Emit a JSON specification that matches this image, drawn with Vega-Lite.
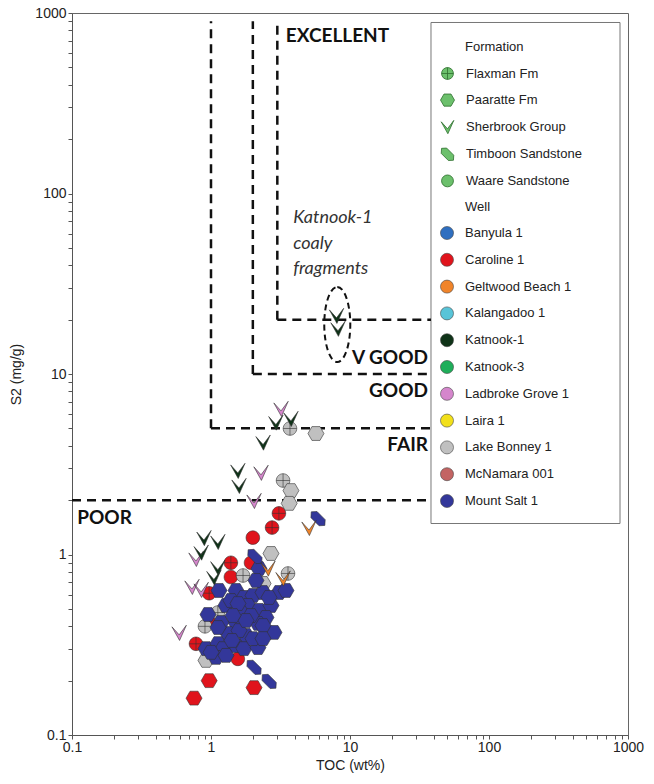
{
  "$schema": "https://vega.github.io/schema/vega-lite/v6.json",
  "width": 556,
  "height": 722,
  "autosize": {"type": "none"},
  "padding": {"left": 72, "top": 13, "right": 26, "bottom": 49},
  "background": "white",
  "config": {
    "view": {"stroke": "#666", "strokeWidth": 1},
    "axis": {
      "labelFont": "Liberation Sans", "titleFont": "Liberation Sans",
      "labelFontSize": 14, "titleFontSize": 14, "titleFontWeight": "normal",
      "labelColor": "#222", "titleColor": "#222",
      "gridColor": "#e2e2f2", "gridOpacity": 1, "gridWidth": 1,
      "domainColor": "#555", "tickColor": "#555", "tickSize": 4
    },
    "legend": {
      "labelFont": "Liberation Sans", "titleFont": "Liberation Sans",
      "labelFontSize": 13, "titleFontSize": 13, "titleFontWeight": "normal",
      "labelColor": "#222", "titleColor": "#222"
    }
  },
  "datasets": {
    "thresholds": [
      {"x": 1, "x2": 1, "y": 5, "y2": 900},
      {"x": 2, "x2": 2, "y": 10, "y2": 900},
      {"x": 3, "x2": 3, "y": 20, "y2": 900},
      {"x": 0.1, "x2": 38.25, "y": 2, "y2": 2},
      {"x": 1, "x2": 38.25, "y": 5, "y2": 5},
      {"x": 2, "x2": 38.25, "y": 10, "y2": 10},
      {"x": 3, "x2": 38.25, "y": 20, "y2": 20}
    ],
    "boldLeft": [
      {"label": "EXCELLENT", "x": 3.45, "y": 750},
      {"label": "POOR", "x": 0.109, "y": 1.6}
    ],
    "boldRight": [
      {"label": "V GOOD", "x": 36.4, "y": 12.2},
      {"label": "GOOD", "x": 36.4, "y": 8.0},
      {"label": "FAIR", "x": 36.4, "y": 4.02}
    ],
    "italic": [
      {"label": "Katnook-1", "x": 3.9, "y": 72.7},
      {"label": "coaly", "x": 3.9, "y": 52.8},
      {"label": "fragments", "x": 3.9, "y": 38.4}
    ],
    "cluster": [{"toc": 8.1, "s2": 18.8}],
    "points": [
      {"well": "Caroline 1", "formation": "Flaxman Fm", "toc": 3.08, "s2": 1.69},
      {"well": "Caroline 1", "formation": "Flaxman Fm", "toc": 2.75, "s2": 1.41},
      {"well": "Caroline 1", "formation": "Flaxman Fm", "toc": 1.39, "s2": 0.90},
      {"well": "Caroline 1", "formation": "Flaxman Fm", "toc": 0.97, "s2": 0.61},
      {"well": "Caroline 1", "formation": "Flaxman Fm", "toc": 0.78, "s2": 0.32},
      {"well": "Caroline 1", "formation": "Waare Sandstone", "toc": 2.0, "s2": 1.24},
      {"well": "Caroline 1", "formation": "Waare Sandstone", "toc": 1.94, "s2": 0.90},
      {"well": "Caroline 1", "formation": "Waare Sandstone", "toc": 1.56, "s2": 0.264},
      {"well": "Caroline 1", "formation": "Waare Sandstone", "toc": 1.09, "s2": 0.415},
      {"well": "Caroline 1", "formation": "Waare Sandstone", "toc": 1.39, "s2": 0.75},
      {"well": "Caroline 1", "formation": "Waare Sandstone", "toc": 1.09, "s2": 0.305},
      {"well": "Caroline 1", "formation": "Paaratte Fm", "toc": 0.97, "s2": 0.20},
      {"well": "Caroline 1", "formation": "Paaratte Fm", "toc": 2.04, "s2": 0.183},
      {"well": "Caroline 1", "formation": "Paaratte Fm", "toc": 0.755, "s2": 0.16},
      {"well": "Lake Bonney 1", "formation": "Flaxman Fm", "toc": 3.70, "s2": 4.99},
      {"well": "Lake Bonney 1", "formation": "Flaxman Fm", "toc": 3.30, "s2": 2.57},
      {"well": "Lake Bonney 1", "formation": "Flaxman Fm", "toc": 1.70, "s2": 0.765},
      {"well": "Lake Bonney 1", "formation": "Flaxman Fm", "toc": 3.58, "s2": 0.785},
      {"well": "Lake Bonney 1", "formation": "Flaxman Fm", "toc": 0.905, "s2": 0.40},
      {"well": "Lake Bonney 1", "formation": "Flaxman Fm", "toc": 1.12, "s2": 0.477},
      {"well": "Lake Bonney 1", "formation": "Paaratte Fm", "toc": 5.69, "s2": 4.68},
      {"well": "Lake Bonney 1", "formation": "Paaratte Fm", "toc": 3.76, "s2": 2.26},
      {"well": "Lake Bonney 1", "formation": "Paaratte Fm", "toc": 3.65, "s2": 1.92},
      {"well": "Lake Bonney 1", "formation": "Paaratte Fm", "toc": 2.70, "s2": 1.013},
      {"well": "Lake Bonney 1", "formation": "Paaratte Fm", "toc": 2.37, "s2": 0.691},
      {"well": "Lake Bonney 1", "formation": "Paaratte Fm", "toc": 0.92, "s2": 0.259},
      {"well": "Mount Salt 1", "formation": "Paaratte Fm", "toc": 1.142, "s2": 0.632},
      {"well": "Mount Salt 1", "formation": "Paaratte Fm", "toc": 1.513, "s2": 0.632},
      {"well": "Mount Salt 1", "formation": "Paaratte Fm", "toc": 1.728, "s2": 0.578},
      {"well": "Mount Salt 1", "formation": "Paaratte Fm", "toc": 2.005, "s2": 0.593},
      {"well": "Mount Salt 1", "formation": "Paaratte Fm", "toc": 2.366, "s2": 0.616},
      {"well": "Mount Salt 1", "formation": "Paaratte Fm", "toc": 3.084, "s2": 0.616},
      {"well": "Mount Salt 1", "formation": "Paaratte Fm", "toc": 3.464, "s2": 0.632},
      {"well": "Mount Salt 1", "formation": "Paaratte Fm", "toc": 0.951, "s2": 0.465},
      {"well": "Mount Salt 1", "formation": "Paaratte Fm", "toc": 1.282, "s2": 0.522},
      {"well": "Mount Salt 1", "formation": "Paaratte Fm", "toc": 1.846, "s2": 0.522},
      {"well": "Mount Salt 1", "formation": "Paaratte Fm", "toc": 2.214, "s2": 0.490},
      {"well": "Mount Salt 1", "formation": "Paaratte Fm", "toc": 2.703, "s2": 0.522},
      {"well": "Mount Salt 1", "formation": "Paaratte Fm", "toc": 2.487, "s2": 0.448},
      {"well": "Mount Salt 1", "formation": "Paaratte Fm", "toc": 1.513, "s2": 0.420},
      {"well": "Mount Salt 1", "formation": "Paaratte Fm", "toc": 2.178, "s2": 0.415},
      {"well": "Mount Salt 1", "formation": "Paaratte Fm", "toc": 1.786, "s2": 0.356},
      {"well": "Mount Salt 1", "formation": "Paaratte Fm", "toc": 2.839, "s2": 0.370},
      {"well": "Mount Salt 1", "formation": "Paaratte Fm", "toc": 1.325, "s2": 0.365},
      {"well": "Mount Salt 1", "formation": "Paaratte Fm", "toc": 0.921, "s2": 0.301},
      {"well": "Mount Salt 1", "formation": "Paaratte Fm", "toc": 1.123, "s2": 0.321},
      {"well": "Mount Salt 1", "formation": "Paaratte Fm", "toc": 1.220, "s2": 0.301},
      {"well": "Mount Salt 1", "formation": "Paaratte Fm", "toc": 1.513, "s2": 0.313},
      {"well": "Mount Salt 1", "formation": "Paaratte Fm", "toc": 1.728, "s2": 0.301},
      {"well": "Mount Salt 1", "formation": "Paaratte Fm", "toc": 2.178, "s2": 0.305},
      {"well": "Mount Salt 1", "formation": "Paaratte Fm", "toc": 1.086, "s2": 0.269},
      {"well": "Mount Salt 1", "formation": "Paaratte Fm", "toc": 1.282, "s2": 0.276},
      {"well": "Mount Salt 1", "formation": "Paaratte Fm", "toc": 2.214, "s2": 0.836},
      {"well": "Mount Salt 1", "formation": "Paaratte Fm", "toc": 1.393, "s2": 0.556},
      {"well": "Mount Salt 1", "formation": "Paaratte Fm", "toc": 1.644, "s2": 0.477},
      {"well": "Mount Salt 1", "formation": "Paaratte Fm", "toc": 1.940, "s2": 0.459},
      {"well": "Mount Salt 1", "formation": "Paaratte Fm", "toc": 2.366, "s2": 0.404},
      {"well": "Mount Salt 1", "formation": "Paaratte Fm", "toc": 2.005, "s2": 0.342},
      {"well": "Mount Salt 1", "formation": "Paaratte Fm", "toc": 1.590, "s2": 0.379},
      {"well": "Mount Salt 1", "formation": "Paaratte Fm", "toc": 2.615, "s2": 0.578},
      {"well": "Mount Salt 1", "formation": "Paaratte Fm", "toc": 1.416, "s2": 0.334},
      {"well": "Mount Salt 1", "formation": "Paaratte Fm", "toc": 1.0, "s2": 0.287},
      {"well": "Mount Salt 1", "formation": "Paaratte Fm", "toc": 1.786, "s2": 0.431},
      {"well": "Mount Salt 1", "formation": "Paaratte Fm", "toc": 1.564, "s2": 0.535},
      {"well": "Mount Salt 1", "formation": "Paaratte Fm", "toc": 2.366, "s2": 0.342},
      {"well": "Mount Salt 1", "formation": "Paaratte Fm", "toc": 1.180, "s2": 0.420},
      {"well": "Mount Salt 1", "formation": "Paaratte Fm", "toc": 2.107, "s2": 0.718},
      {"well": "Mount Salt 1", "formation": "Paaratte Fm", "toc": 1.44, "s2": 0.459},
      {"well": "Mount Salt 1", "formation": "Paaratte Fm", "toc": 1.123, "s2": 0.394},
      {"well": "Mount Salt 1", "formation": "Timboon Sandstone", "toc": 5.89, "s2": 1.58},
      {"well": "Mount Salt 1", "formation": "Timboon Sandstone", "toc": 2.07, "s2": 0.975},
      {"well": "Mount Salt 1", "formation": "Timboon Sandstone", "toc": 2.04, "s2": 0.237},
      {"well": "Mount Salt 1", "formation": "Timboon Sandstone", "toc": 2.62, "s2": 0.198},
      {"well": "Geltwood Beach 1", "formation": "Sherbrook Group", "toc": 5.07, "s2": 1.41},
      {"well": "Geltwood Beach 1", "formation": "Sherbrook Group", "toc": 2.57, "s2": 0.84},
      {"well": "Geltwood Beach 1", "formation": "Sherbrook Group", "toc": 3.30, "s2": 0.74},
      {"well": "Ladbroke Grove 1", "formation": "Sherbrook Group", "toc": 3.19, "s2": 6.44},
      {"well": "Ladbroke Grove 1", "formation": "Sherbrook Group", "toc": 2.29, "s2": 2.85},
      {"well": "Ladbroke Grove 1", "formation": "Sherbrook Group", "toc": 2.04, "s2": 1.99},
      {"well": "Ladbroke Grove 1", "formation": "Sherbrook Group", "toc": 0.78, "s2": 0.95},
      {"well": "Ladbroke Grove 1", "formation": "Sherbrook Group", "toc": 0.73, "s2": 0.665},
      {"well": "Ladbroke Grove 1", "formation": "Sherbrook Group", "toc": 0.85, "s2": 0.64},
      {"well": "Ladbroke Grove 1", "formation": "Sherbrook Group", "toc": 0.59, "s2": 0.37},
      {"well": "Katnook-1", "formation": "Sherbrook Group", "toc": 8.0, "s2": 21.1},
      {"well": "Katnook-1", "formation": "Sherbrook Group", "toc": 8.2, "s2": 17.9},
      {"well": "Katnook-1", "formation": "Sherbrook Group", "toc": 3.76, "s2": 5.67},
      {"well": "Katnook-1", "formation": "Sherbrook Group", "toc": 2.93, "s2": 5.41},
      {"well": "Katnook-1", "formation": "Sherbrook Group", "toc": 2.37, "s2": 4.19},
      {"well": "Katnook-1", "formation": "Sherbrook Group", "toc": 1.56, "s2": 2.92},
      {"well": "Katnook-1", "formation": "Sherbrook Group", "toc": 1.59, "s2": 2.41},
      {"well": "Katnook-1", "formation": "Sherbrook Group", "toc": 0.89, "s2": 1.24},
      {"well": "Katnook-1", "formation": "Sherbrook Group", "toc": 1.12, "s2": 1.18},
      {"well": "Katnook-1", "formation": "Sherbrook Group", "toc": 0.85, "s2": 1.03},
      {"well": "Katnook-1", "formation": "Sherbrook Group", "toc": 1.12, "s2": 0.85},
      {"well": "Katnook-1", "formation": "Sherbrook Group", "toc": 1.05, "s2": 0.75}
    ]
  },
  "layer": [
    {
      "data": {"values": [{}]},
      "mark": {"type": "rect", "filled": true, "color": "white", "fill": "white", "fillOpacity": 1, "stroke": "#777", "strokeWidth": 1},
      "encoding": {
        "x": {"datum": 38.25, "type": "quantitative", "scale": {"type": "log", "domain": [0.1, 1000], "nice": false},
          "axis": {"title": "TOC (wt%)", "values": [0.1,0.2,0.3,0.4,0.5,0.6,0.7,0.8,0.9,1,2,3,4,5,6,7,8,9,10,20,30,40,50,60,70,80,90,100,200,300,400,500,600,700,800,900,1000],
            "format": "~g", "labelExpr": "indexof([0.1,1,10,100,1000], datum.value) >= 0 ? datum.label : ''",
            "labelOverlap": false, "labelFlush": false, "labelPadding": 1, "titlePadding": 4}},
        "x2": {"datum": 876},
        "y": {"datum": 886, "type": "quantitative", "scale": {"type": "log", "domain": [0.1, 1000], "nice": false},
          "axis": {"title": "S2 (mg/g)", "values": [0.1,0.2,0.3,0.4,0.5,0.6,0.7,0.8,0.9,1,2,3,4,5,6,7,8,9,10,20,30,40,50,60,70,80,90,100,200,300,400,500,600,700,800,900,1000],
            "format": "~g", "labelExpr": "indexof([0.1,1,10,100,1000], datum.value) >= 0 ? datum.label : ''",
            "labelOverlap": false, "labelPadding": 2, "titlePadding": 11}},
        "y2": {"datum": 1.485}
      }
    },
    {
      "data": {"name": "thresholds"},
      "mark": {"type": "rule", "color": "#111", "strokeWidth": 2.5, "strokeDash": [9, 6]},
      "encoding": {
        "x": {"field": "x", "type": "quantitative"},
        "x2": {"field": "x2"},
        "y": {"field": "y", "type": "quantitative"},
        "y2": {"field": "y2"}
      }
    },
    {
      "data": {"name": "cluster"},
      "mark": {"type": "point", "filled": false, "stroke": "#111", "strokeWidth": 2, "strokeDash": [6, 4], "size": 5625, "opacity": 1,
        "shape": "M0,-1 A0.347,1 0 1,1 0,1 A0.347,1 0 1,1 0,-1 Z"},
      "encoding": {
        "x": {"field": "toc", "type": "quantitative"},
        "y": {"field": "s2", "type": "quantitative"}
      }
    },
    {
      "data": {"name": "boldLeft"},
      "mark": {"type": "text", "font": "Lato", "fontWeight": "bold", "fontSize": 19, "align": "left", "baseline": "middle", "color": "#111"},
      "encoding": {
        "x": {"field": "x", "type": "quantitative"},
        "y": {"field": "y", "type": "quantitative"},
        "text": {"field": "label"}
      }
    },
    {
      "data": {"name": "boldRight"},
      "mark": {"type": "text", "font": "Lato", "fontWeight": "bold", "fontSize": 19, "align": "right", "baseline": "middle", "color": "#111"},
      "encoding": {
        "x": {"field": "x", "type": "quantitative"},
        "y": {"field": "y", "type": "quantitative"},
        "text": {"field": "label"}
      }
    },
    {
      "data": {"name": "italic"},
      "mark": {"type": "text", "font": "Lato", "fontStyle": "italic", "fontSize": 18, "align": "left", "baseline": "middle", "color": "#333"},
      "encoding": {
        "x": {"field": "x", "type": "quantitative"},
        "y": {"field": "y", "type": "quantitative"},
        "text": {"field": "label"}
      }
    },
    {
      "data": {"name": "points"},
      "mark": {"type": "point", "filled": true, "stroke": "#333", "strokeWidth": 0.6, "size": 256, "opacity": 1},
      "encoding": {
        "x": {"field": "toc", "type": "quantitative"},
        "y": {"field": "s2", "type": "quantitative"},
        "shape": {
          "field": "formation", "type": "nominal",
          "scale": {
            "domain": ["Flaxman Fm", "Paaratte Fm", "Sherbrook Group", "Timboon Sandstone", "Waare Sandstone"],
            "range": [
              "M-0.85,0 A0.85,0.85 0 1,1 0.85,0 A0.85,0.85 0 1,1 -0.85,0 Z M-0.85,0 L0.85,0 M0,-0.85 L0,0.85",
              "M-1,0 L-0.5,-0.866 L0.5,-0.866 L1,0 L0.5,0.866 L-0.5,0.866 Z",
              "M-0.9,-0.7 L0,0.3 L0.9,-0.9 L0.05,1 Z",
              "M-0.849,-0.849 L-0.127,-0.891 L0.891,0.127 L0.849,0.849 L0.127,0.891 L-0.891,-0.127 Z",
              "M-0.85,0 A0.85,0.85 0 1,1 0.85,0 A0.85,0.85 0 1,1 -0.85,0 Z"
            ]
          },
          "legend": {
            "title": "Formation", "orient": "none", "legendX": 368, "legendY": 28, "padding": 0,
            "symbolFillColor": "#6cc06c", "symbolStrokeColor": "#2f6f2f", "symbolStrokeWidth": 0.8,
            "symbolSize": 196, "symbolOpacity": 1, "rowPadding": 9.6, "titlePadding": 12, "labelOffset": 11,
            "encoding": {"title": {"dx": {"value": 25}}}
          }
        },
        "color": {
          "field": "well", "type": "nominal",
          "scale": {
            "domain": ["Banyula 1", "Caroline 1", "Geltwood Beach 1", "Kalangadoo 1", "Katnook-1", "Katnook-3", "Ladbroke Grove 1", "Laira 1", "Lake Bonney 1", "McNamara 001", "Mount Salt 1"],
            "range": ["#2f6fc0", "#e0141c", "#f0842a", "#58c4d8", "#0f3318", "#1fae5a", "#d586cc", "#f2e01a", "#c0c0c0", "#c36463", "#33379a"]
          },
          "legend": {
            "title": "Well", "orient": "none", "legendX": 368, "legendY": 188, "padding": 0,
            "symbolType": "circle", "symbolSize": 170, "symbolStrokeColor": "#444", "symbolStrokeWidth": 0.6,
            "symbolOpacity": 1, "rowPadding": 10.8, "titlePadding": 12, "labelOffset": 11,
            "encoding": {"title": {"dx": {"value": 25}}}
          }
        }
      }
    }
  ]
}
